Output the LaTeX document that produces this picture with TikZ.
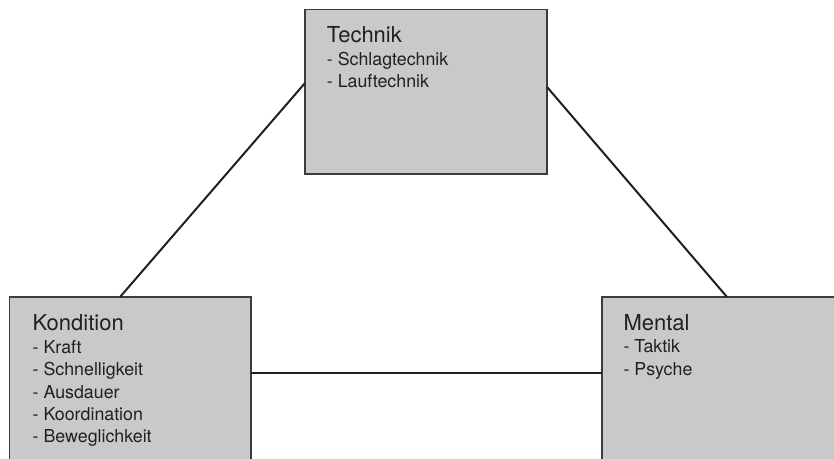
\documentclass[tikz,border=0pt]{standalone}
\usepackage{fontspec}
\setmainfont{TeX Gyre Heros}
\usetikzlibrary{calc}
\definecolor{boxfill}{HTML}{C8C9CB}
\definecolor{boxline}{HTML}{3C3C3C}
\definecolor{ink}{HTML}{231F20}
\tikzset{
  panel/.style={draw=boxline, line width=1.5pt, fill=boxfill, rectangle,
    anchor=north west, inner sep=0pt, outer sep=0pt},
  heading/.style={anchor=base west, inner sep=0pt, text=ink,
    font=\fontsize{22}{26}\selectfont},
  item/.style={anchor=base west, inner sep=0pt, text=ink,
    font=\fontsize{17.8}{22}\selectfont},
  link/.style={draw=ink, line width=2pt},
}
\begin{document}
\begin{tikzpicture}[x=1pt,y=-1pt]
\clip (0,0) rectangle (834,458);

% the three panels (the lower two run past the page edge)
\node[panel, minimum width=242pt, minimum height=164.5pt] (tech) at (305,9.5) {};
\node[panel, minimum width=241.7pt, minimum height=250pt] (kond) at (9.3,297) {};
\node[panel, minimum width=300pt, minimum height=250pt] (ment) at (602,297) {};

% connector end points on the panel borders
\coordinate (techL) at ($(tech.north west)!0.447!(tech.south west)$);
\coordinate (techR) at ($(tech.north east)!0.471!(tech.south east)$);
\coordinate (kondT) at ($(kond.north west)+(110.7,0)$);
\coordinate (kondR) at ($(kond.north east)+(0,76)$);
\coordinate (mentT) at ($(ment.north west)+(125,0)$);
\coordinate (mentL) at ($(ment.north west)+(0,76)$);

\draw[link] (techL) -- (kondT);
\draw[link] (techR) -- (mentT);
\draw[link] (kondR) -- (mentL);

% Technik
\node[heading] (techH) at (326.7,42.7) {Technik};
\node[item] (techA) at (326.7,65) {- Schlagtechnik};
\node[item] (techB) at (326.7,87.7) {- Lauftechnik};

% Kondition
\node[heading] (kondH) at (32.5,330) {Kondition};
\node[item] (kondA) at (32.5,353.3) {- Kraft};
\node[item] (kondB) at (32.5,375.7) {- Schnelligkeit};
\node[item] (kondC) at (32.5,398) {- Ausdauer};
\node[item] (kondD) at (32.5,420.4) {- Koordination};
\node[item] (kondE) at (32.5,442.8) {- Beweglichkeit};

% Mental
\node[heading] (mentH) at (623.3,330) {Mental};
\node[item] (mentA) at (623.3,352.5) {- Taktik};
\node[item] (mentB) at (623.3,375) {- Psyche};
\end{tikzpicture}
\end{document}
